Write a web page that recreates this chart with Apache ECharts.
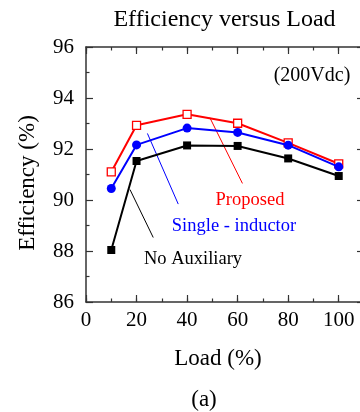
<!DOCTYPE html>
<html>
<head>
<meta charset="utf-8">
<script src="https://cdn.jsdelivr.net/npm/echarts@6/dist/echarts.min.js"></script>
<style>
  html, body { margin: 0; padding: 0; background: #fff; }
  #chart { width: 360px; height: 412px; }
</style>
</head>
<body>
<div id="chart"></div>
<script>
// Load levels (%)
var loads = [10, 20, 40, 60, 80, 100];

// Efficiency (%) per converter variant
var proposed = [91.1, 92.93, 93.36, 93.01, 92.24, 91.42];
var singleInductor = [90.45, 92.16, 92.82, 92.65, 92.15, 91.3];
var noAuxiliary = [88.04, 91.53, 92.14, 92.12, 91.63, 90.94];

// Leader lines from each curve to its caption: [load, efficiency] pairs
var proposedLeader = [[49.0, 93.23], [61.9, 90.65]];
var singleLeader = [[24.3, 92.61], [36.5, 89.84]];
var noAuxLeader = [[17.4, 90.41], [26.6, 88.53]];

// Axis ranges and ticks
var loadMin = 0, loadMax = 110, loadMajor = 20, loadMinor = 10;
var effMin = 86, effMax = 96, effMajor = 2;

var SERIF = 'Liberation Serif, Times New Roman, serif';
var AXIS_COLOR = '#333';

function pairs(xs, ys) {
  return xs.map(function (x, i) { return [x, ys[i]]; });
}

function xAxisDef(position, interval, tickLen, showLine, showLabel) {
  return {
    type: 'value', position: position, min: loadMin, max: loadMax, interval: interval,
    axisLine: { show: showLine, onZero: false, lineStyle: { color: AXIS_COLOR, width: 1.5 } },
    axisTick: { show: true, inside: true, length: tickLen, lineStyle: { color: AXIS_COLOR, width: 1.2 } },
    axisLabel: {
      show: showLabel, margin: 8, color: '#000', fontFamily: SERIF, fontSize: 21,
      showMaxLabel: false
    },
    splitLine: { show: false }
  };
}

var chart = echarts.init(document.getElementById('chart'), null, { renderer: 'canvas' });

var option = {
  animation: false,
  backgroundColor: '#fff',
  grid: { left: 86, right: -4, top: 47, bottom: 110, outerBoundsMode: 'none', containLabel: false },
  xAxis: [
    xAxisDef('bottom', loadMajor, 7, true, true),
    xAxisDef('bottom', loadMinor, 3.5, false, false),
    xAxisDef('top', loadMajor, 7, true, false),
    xAxisDef('top', loadMinor, 3.5, false, false)
  ],
  yAxis: [
    {
      type: 'value', position: 'left', min: effMin, max: effMax, interval: effMajor,
      axisLine: { show: true, onZero: false, lineStyle: { color: AXIS_COLOR, width: 1.5 } },
      axisTick: { show: true, inside: true, length: 7, lineStyle: { color: AXIS_COLOR, width: 1.2 } },
      minorTick: { show: true, splitNumber: 2, length: 3.5, lineStyle: { color: AXIS_COLOR, width: 1.2 } },
      axisLabel: { margin: 12, color: '#000', fontFamily: SERIF, fontSize: 21 },
      splitLine: { show: false }
    },
    {
      type: 'value', position: 'right', min: effMin, max: effMax, interval: effMajor,
      axisLine: { show: true, onZero: false, lineStyle: { color: AXIS_COLOR, width: 1.5 } },
      axisTick: { show: true, inside: true, length: 7, lineStyle: { color: AXIS_COLOR, width: 1.2 } },
      axisLabel: { show: false },
      splitLine: { show: false }
    }
  ],
  series: [
    {
      type: 'line', data: proposedLeader, symbol: 'none', silent: true,
      lineStyle: { color: '#ff0000', width: 1 }, z: 1
    },
    {
      type: 'line', data: singleLeader, symbol: 'none', silent: true,
      lineStyle: { color: '#0000ff', width: 1 }, z: 1
    },
    {
      type: 'line', data: noAuxLeader, symbol: 'none', silent: true,
      lineStyle: { color: '#000', width: 1 }, z: 1
    },
    {
      name: 'Proposed', type: 'line', data: pairs(loads, proposed),
      symbol: 'rect', symbolSize: 8,
      lineStyle: { color: '#ff0000', width: 2 },
      itemStyle: { color: '#fff', borderColor: '#ff0000', borderWidth: 1.3 }, z: 2
    },
    {
      name: 'Single - inductor', type: 'line', data: pairs(loads, singleInductor),
      symbol: 'circle', symbolSize: 9,
      lineStyle: { color: '#0000ff', width: 2 },
      itemStyle: { color: '#0000ff', borderWidth: 0 }, z: 3
    },
    {
      name: 'No Auxiliary', type: 'line', data: pairs(loads, noAuxiliary),
      symbol: 'rect', symbolSize: 8,
      lineStyle: { color: '#000', width: 2 },
      itemStyle: { color: '#000', borderWidth: 0 }, z: 3
    }
  ],
  graphic: [
    { type: 'text', x: 224.5, y: 20, style: { text: 'Efficiency versus Load', font: '24px ' + SERIF, fill: '#000', align: 'center', verticalAlign: 'middle' } },
    { type: 'text', x: 28, y: 183, rotation: Math.PI / 2, style: { text: 'Efficiency (%)', font: '23px ' + SERIF, fill: '#000', align: 'center', verticalAlign: 'middle' } },
    { type: 'text', x: 218, y: 359, style: { text: 'Load (%)', font: '23px ' + SERIF, fill: '#000', align: 'center', verticalAlign: 'middle' } },
    { type: 'text', x: 204, y: 400, style: { text: '(a)', font: '23px ' + SERIF, fill: '#000', align: 'center', verticalAlign: 'middle' } },
    { type: 'text', x: 312, y: 76, style: { text: '(200Vdc)', font: '20px ' + SERIF, fill: '#000', align: 'center', verticalAlign: 'middle' } },
    { type: 'text', x: 250, y: 200.5, style: { text: 'Proposed', font: '18.5px ' + SERIF, fill: '#ff0000', align: 'center', verticalAlign: 'middle' } },
    { type: 'text', x: 234, y: 226.5, style: { text: 'Single - inductor', font: '18.5px ' + SERIF, fill: '#0000ff', align: 'center', verticalAlign: 'middle' } },
    { type: 'text', x: 193, y: 258.7, style: { text: 'No Auxiliary', font: '18.5px ' + SERIF, fill: '#000', align: 'center', verticalAlign: 'middle' } }
  ]
};

chart.setOption(option);
</script>
</body>
</html>
